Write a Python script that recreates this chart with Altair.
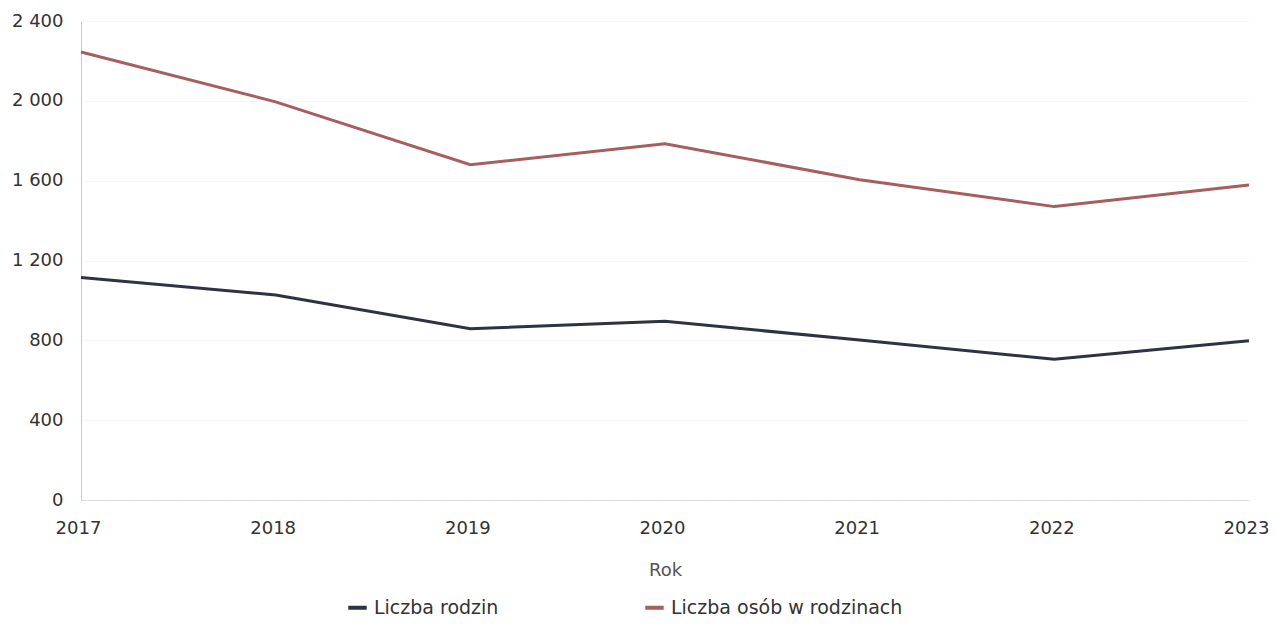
import altair as alt
import pandas as pd

years = [2017, 2018, 2019, 2020, 2021, 2022, 2023]
liczba_rodzin = [1115, 1027, 858, 895, 802, 705, 798]
liczba_osob = [2245, 1995, 1680, 1785, 1605, 1470, 1578]
series_names = ["Liczba rodzin", "Liczba osób w rodzinach"]
colors = ["#2b3344", "#a65e5e"]

rows = []
for y, a, b in zip(years, liczba_rodzin, liczba_osob):
    rows.append({"Rok": y, "Seria": series_names[0], "Wartość": a})
    rows.append({"Rok": y, "Seria": series_names[1], "Wartość": b})
df = pd.DataFrame(rows)

font = "DejaVu Sans"

chart = alt.Chart(df).mark_line(strokeWidth=3).encode(
    x=alt.X("Rok:Q",
            scale=alt.Scale(domain=[2017, 2023], nice=False, zero=False),
            axis=alt.Axis(values=years, format="d", title="Rok", grid=False,
                          ticks=False, labelPadding=19, labelFontSize=18,
                          labelOffset=-3,
                          labelColor="#333333", titleFontSize=18,
                          titleColor="#555555", titleFontWeight="normal",
                          titlePadding=24, domainColor="#d0d0d0",
                          domainDash=[2, 1], labelFont=font, titleFont=font,
                          labelFlush=False)),
    y=alt.Y("Wartość:Q",
            scale=alt.Scale(domain=[0, 2400], nice=False),
            axis=alt.Axis(values=[0, 400, 800, 1200, 1600, 2000, 2400],
                          labelExpr="replace(format(datum.value, ','), ',', ' ')",
                          title=None, grid=True, gridColor="#f6f6f6",
                          ticks=False, labelPadding=18, labelFontSize=18,
                          labelColor="#333333", domainColor="#cccccc",
                          labelFont=font)),
    color=alt.Color("Seria:N",
                    scale=alt.Scale(domain=series_names, range=colors),
                    legend=alt.Legend(title=None, orient="none",
                                      legendX=265, legendY=575,
                                      direction="horizontal", columns=2,
                                      columnPadding=138, labelOffset=5,
                                      labelLimit=400,
                                      symbolType="stroke", symbolStrokeWidth=4,
                                      symbolSize=340, labelFontSize=19,
                                      labelColor="#333333", labelFont=font)),
).properties(
    width=1168, height=479,
    autosize=alt.AutoSizeParams(type="none"),
    padding={"left": 73, "top": 13, "right": 20, "bottom": 120},
).configure_view(stroke=None)

chart.save("out.html", embed_options={"renderer": "svg", "actions": False})
